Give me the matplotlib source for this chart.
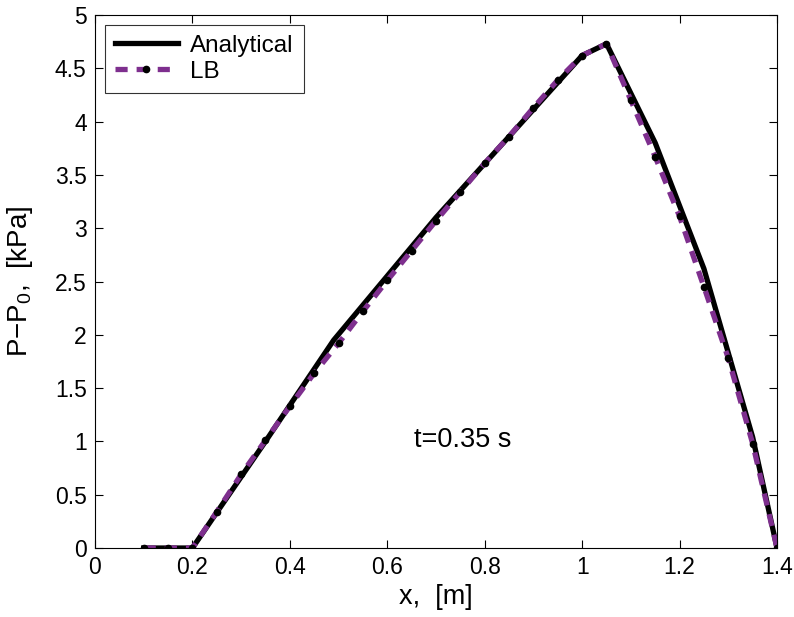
import matplotlib
matplotlib.use("Agg")
import matplotlib.pyplot as plt
from matplotlib.ticker import FormatStrFormatter, MultipleLocator

# Pressure profile at t=0.35 s, analytical vs lattice Boltzmann

x_analytical = [0.1, 0.2, 0.35, 0.49, 0.7, 1.0, 1.05, 1.15, 1.25, 1.35, 1.4]
p_analytical = [0.0, 0.0, 1.0, 1.95, 3.1, 4.62, 4.73, 3.8, 2.62, 1.04, 0.0]

x_lb = [0.10, 0.15, 0.20, 0.25, 0.30, 0.35, 0.40, 0.45, 0.50,
        0.55, 0.60, 0.65, 0.70, 0.75, 0.80, 0.85, 0.90, 0.95,
        1.00, 1.05, 1.10, 1.15, 1.20, 1.25, 1.30, 1.35, 1.40]
p_lb = [0.0, 0.0, 0.0, 0.34, 0.69, 1.01, 1.33, 1.64, 1.92,
        2.22, 2.51, 2.79, 3.07, 3.34, 3.61, 3.86, 4.13, 4.39,
        4.62, 4.73, 4.20, 3.67, 3.11, 2.45, 1.78, 0.98, 0.0]

plt.rcParams["font.family"] = ["Liberation Sans", "DejaVu Sans"]
plt.rcParams["mathtext.default"] = "regular"
plt.rcParams["font.size"] = 16

fig = plt.figure(figsize=(7.94, 6.17), dpi=100)
ax = fig.add_axes([0.1196, 0.1118, 0.859, 0.8639])

ax.plot(x_analytical, p_analytical, color="black", linewidth=3.8,
        label="Analytical")
ax.plot(x_lb, p_lb, color="#7E2F8E", linewidth=3.8, linestyle=(0, (2.3, 1.7)),
        marker=".", markersize=9, markerfacecolor="black",
        markeredgecolor="black", label="LB")

ax.set_xlim(0, 1.4)
ax.set_ylim(0, 5)
ax.xaxis.set_major_locator(MultipleLocator(0.2))
ax.yaxis.set_major_locator(MultipleLocator(0.5))
ax.xaxis.set_major_formatter(FormatStrFormatter("%g"))
ax.yaxis.set_major_formatter(FormatStrFormatter("%g"))
ax.tick_params(direction="in", top=True, right=True, length=6,
               width=0.8, labelsize=16.5, pad=6)
for s in ax.spines.values():
    s.set_linewidth(0.8)

ax.set_xlabel("x,  [m]", fontsize=19.5, labelpad=3)
ax.set_ylabel("P\u2212P$_0$,  [kPa]", fontsize=20, labelpad=14)

ax.text(0.754, 1.01, "t=0.35 s", fontsize=19.5, ha="center", va="center")

leg = ax.legend(loc="upper left", fontsize=17.5, handlelength=2.6,
                frameon=True, fancybox=False, edgecolor="black",
                borderaxespad=0.4, borderpad=0.42, labelspacing=0.15,
                handletextpad=0.5)
leg.get_frame().set_linewidth(0.8)

plt.savefig("out.png", dpi=100)
